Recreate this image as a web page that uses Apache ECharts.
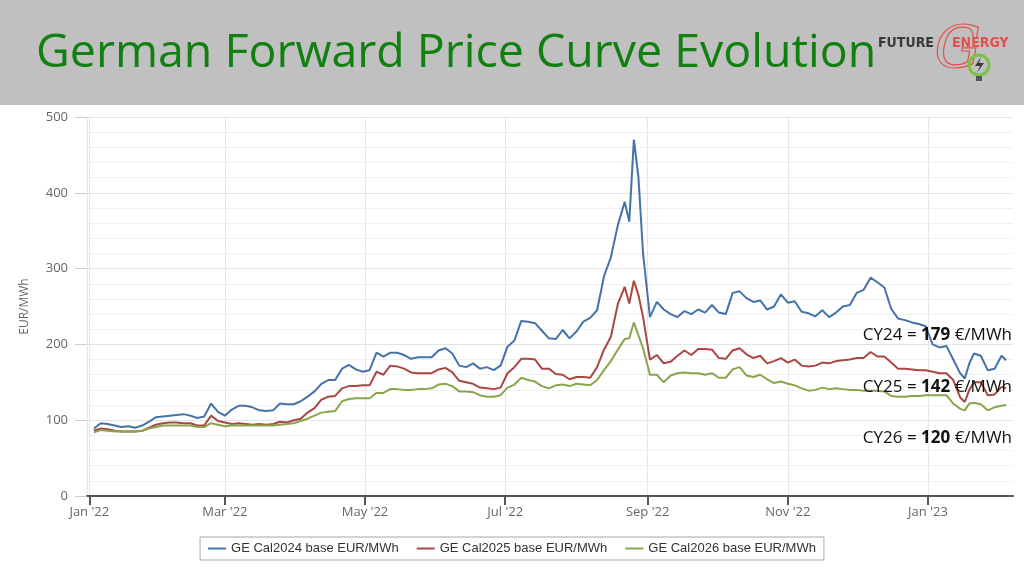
<!DOCTYPE html>
<html>
<head>
<meta charset="utf-8">
<title>German Forward Price Curve Evolution</title>
<script src="https://cdn.jsdelivr.net/npm/echarts@6/dist/echarts.min.js"></script>
<style>
  html, body { margin: 0; padding: 0; background: #fff; }
  #chart { width: 1024px; height: 576px; }
</style>
</head>
<body>
<div id="chart"></div>
<script>
// trading dates (sampled roughly every 3 days)
const dates = [
  '2022-01-03','2022-01-06','2022-01-09','2022-01-12','2022-01-15','2022-01-18','2022-01-21','2022-01-24','2022-01-27','2022-01-30',
  '2022-02-02','2022-02-05','2022-02-08','2022-02-11','2022-02-14','2022-02-17','2022-02-20','2022-02-23','2022-02-26',
  '2022-03-01','2022-03-04','2022-03-07','2022-03-10','2022-03-13','2022-03-16','2022-03-19','2022-03-22','2022-03-25','2022-03-28','2022-03-31',
  '2022-04-03','2022-04-06','2022-04-09','2022-04-12','2022-04-15','2022-04-18','2022-04-21','2022-04-24','2022-04-27','2022-04-30',
  '2022-05-03','2022-05-06','2022-05-09','2022-05-12','2022-05-15','2022-05-18','2022-05-21','2022-05-24','2022-05-27','2022-05-30',
  '2022-06-02','2022-06-05','2022-06-08','2022-06-11','2022-06-14','2022-06-17','2022-06-20','2022-06-23','2022-06-26','2022-06-29',
  '2022-07-02','2022-07-05','2022-07-08','2022-07-11','2022-07-14','2022-07-17','2022-07-20','2022-07-23','2022-07-26','2022-07-29',
  '2022-08-01','2022-08-04','2022-08-07','2022-08-10','2022-08-13','2022-08-16','2022-08-19','2022-08-22','2022-08-24','2022-08-26','2022-08-28','2022-08-30',
  '2022-09-02','2022-09-05','2022-09-08','2022-09-11','2022-09-14','2022-09-17','2022-09-20','2022-09-23','2022-09-26','2022-09-29',
  '2022-10-02','2022-10-05','2022-10-08','2022-10-11','2022-10-14','2022-10-17','2022-10-20','2022-10-23','2022-10-26','2022-10-29',
  '2022-11-01','2022-11-04','2022-11-07','2022-11-10','2022-11-13','2022-11-16','2022-11-19','2022-11-22','2022-11-25','2022-11-28',
  '2022-12-01','2022-12-04','2022-12-07','2022-12-10','2022-12-13','2022-12-16','2022-12-19','2022-12-22','2022-12-25','2022-12-28','2022-12-31',
  '2023-01-03','2023-01-06','2023-01-09','2023-01-12','2023-01-15','2023-01-17','2023-01-19','2023-01-21','2023-01-24','2023-01-27','2023-01-30',
  '2023-02-02','2023-02-04'
];

const cal2024 = [
  89,96,95,93,91,92,90,93,98,104,
  105,106,107,108,106,103,105,122,111,
  106,114,119,119,117,113,112,113,122,121,121,
  125,131,138,148,153,153,168,173,167,164,
  166,189,184,189,189,186,181,183,183,183,
  192,195,188,172,170,175,168,170,166,172,
  197,205,231,230,228,218,208,207,219,208,
  217,230,235,245,290,315,357,388,362,470,420,320,
  236,256,246,240,236,244,240,246,242,252,
  242,240,268,270,261,256,258,246,250,266,
  255,257,243,241,237,245,236,242,250,252,
  268,272,288,282,275,247,234,232,229,227,224,
  200,196,198,180,162,155,175,188,185,166,168,
  185,179
];

const cal2025 = [
  86,89,88,86,85,85,85,86,90,94,
  96,97,97,96,96,93,93,106,99,
  97,95,96,95,94,95,94,95,98,97,100,
  102,110,116,127,131,132,142,145,145,146,
  146,164,160,172,171,168,163,162,162,162,
  167,169,163,152,150,148,143,142,141,143,
  162,170,181,181,180,168,168,161,160,154,
  157,157,156,170,193,210,253,276,254,284,265,236,
  180,186,175,177,185,192,186,194,194,193,
  182,181,192,195,187,182,185,175,178,182,
  176,180,172,171,172,176,175,178,179,180,
  182,182,190,184,184,176,168,168,167,166,166,
  164,162,162,153,130,124,140,150,150,133,134,
  144,142
];

const cal2026 = [
  84,87,86,85,85,85,85,86,89,91,
  93,93,93,93,93,91,91,96,94,
  92,93,93,93,93,93,93,93,94,95,96,
  99,102,106,110,111,112,125,128,129,129,
  129,136,136,141,141,140,140,141,141,142,
  147,148,145,138,138,137,133,131,131,133,
  143,147,156,153,151,145,142,146,147,145,
  148,147,146,153,166,178,193,207,208,229,212,195,
  160,160,150,159,162,163,162,162,160,162,
  156,156,167,170,159,157,160,154,149,151,
  148,146,142,139,140,143,141,142,141,140,
  140,139,139,139,138,132,131,131,132,132,133,
  133,133,133,122,115,113,122,123,121,113,117,
  119,120
];

const seriesNames = ['GE Cal2024 base EUR/MWh', 'GE Cal2025 base EUR/MWh', 'GE Cal2026 base EUR/MWh'];
const seriesColors = ['#4572A7', '#AA4643', '#89A54E'];
const monthTicks = ['2022-01-01','2022-03-01','2022-05-01','2022-07-01','2022-09-01','2022-11-01','2023-01-01'];
const monthNames = ['Jan','Feb','Mar','Apr','May','Jun','Jul','Aug','Sep','Oct','Nov','Dec'];
const latest = [['CY24', 179], ['CY25', 142], ['CY26', 120]];

const parse = s => +echarts.number.parseDate(s);
const tickValues = monthTicks.map(parse);

function fmtMonth(v) {
  const d = new Date(v);
  return monthNames[d.getMonth()] + " '" + String(d.getFullYear()).slice(2);
}

const chart = echarts.init(document.getElementById('chart'));

const annoY = [334, 386, 437];

chart.setOption({
  animation: false,
  backgroundColor: '#fff',
  color: seriesColors,
  grid: { left: 87, right: 11, top: 117, bottom: 80 },
  legend: {
    bottom: 16,
    left: 'center',
    icon: 'rect',
    itemWidth: 18,
    itemHeight: 2,
    itemGap: 18,
    padding: [5, 8, 5, 8],
    borderColor: '#a8a8a8',
    borderWidth: 1,
    textStyle: { fontFamily: 'Liberation Sans', fontSize: 13, color: '#333' },
    data: seriesNames
  },
  xAxis: {
    type: 'value',
    min: parse('2021-12-31'),
    max: parse('2023-02-07'),
    axisLine: { lineStyle: { color: '#555', width: 2 } },
    axisTick: { customValues: tickValues, length: 9, lineStyle: { color: '#555', width: 2 } },
    axisLabel: {
      customValues: tickValues,
      formatter: fmtMonth,
      color: '#666',
      fontFamily: 'Open Sans',
      fontSize: 13,
      margin: 10
    },
    splitLine: { show: true, lineStyle: { color: '#e6e6e6' } }
  },
  yAxis: {
    type: 'value',
    min: 0,
    max: 500,
    interval: 100,
    name: 'EUR/MWh',
    nameLocation: 'middle',
    nameGap: 56,
    nameTextStyle: { color: '#666', fontFamily: 'Open Sans', fontSize: 12 },
    axisLine: { show: true, lineStyle: { color: '#e6e6e6' } },
    axisTick: { show: true, length: 12, lineStyle: { color: '#cccccc' } },
    axisLabel: { color: '#666', fontFamily: 'Open Sans', fontSize: 13, margin: 19 },
    splitLine: { lineStyle: { color: '#e3e3e3' } },
    minorTick: { show: false, splitNumber: 5 },
    minorSplitLine: { show: true, lineStyle: { color: '#f0f0f0' } }
  },
  series: [cal2024, cal2025, cal2026].map((vals, i) => ({
    name: seriesNames[i],
    type: 'line',
    showSymbol: false,
    symbol: 'none',
    lineStyle: { width: 2, color: seriesColors[i] },
    data: dates.map((d, j) => [parse(d), vals[j]])
  })),
  graphic: [
    { type: 'rect', left: 0, top: 0, shape: { width: 1024, height: 105 }, style: { fill: '#c0c0c0' }, z: 0 },
    {
      type: 'text', left: 36, top: 30,
      style: { text: 'German Forward Price Curve Evolution', fill: '#118011', font: '46.5px "Open Sans"' }
    },
    // logo
    { type: 'text', left: 878, top: 36, style: { text: 'FUTURE', fill: '#3a3a3a', font: 'bold 14px "DejaVu Sans Condensed"' } },
    { type: 'text', left: 952, top: 36, style: { text: 'ENERGY', fill: '#e5504c', font: 'bold 14px "DejaVu Sans Condensed"' } },
    { type: 'text', left: 934, top: 22, style: { text: 'G', fill: 'none', stroke: '#e5504c', lineWidth: 1.2, font: 'italic 58px "DejaVu Serif"' } },
    { type: 'circle', shape: { cx: 979, cy: 65, r: 10 }, style: { fill: 'none', stroke: '#7cc242', lineWidth: 3 } },
    { type: 'polygon', shape: { points: [[981, 57], [975, 66], [980, 66], [977, 73], [984, 63], [979, 63]] }, style: { fill: '#3a3a3a' } },
    { type: 'rect', shape: { x: 976, y: 76, width: 6, height: 5 }, style: { fill: '#555' } },
    // latest price notes
    ...latest.map((a, i) => ({
      type: 'text', right: 12, top: annoY[i] - 7, z: 10,
      style: {
        text: '{n|' + a[0] + ' = }{b|' + a[1] + '}{n| €/MWh}',
        rich: {
          n: { font: '17px "Open Sans"', fill: '#111' },
          b: { font: 'bold 17px "Open Sans"', fill: '#111' }
        }
      }
    }))
  ]
});
</script>
</body>
</html>
